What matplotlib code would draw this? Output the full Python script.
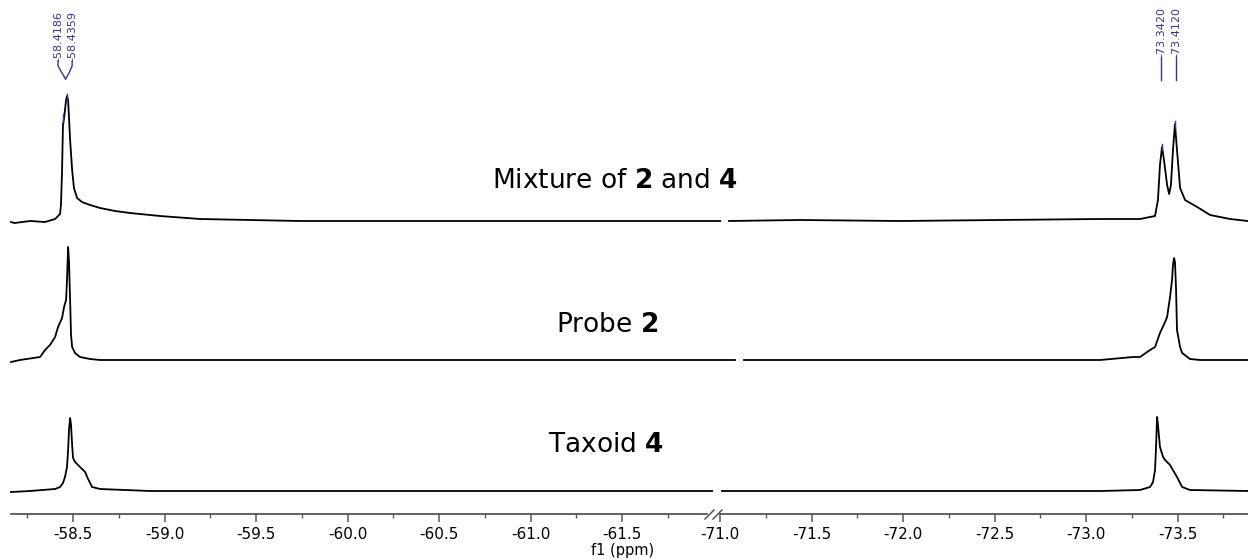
import matplotlib
matplotlib.use("Agg")
import matplotlib.pyplot as plt
from matplotlib.lines import Line2D
from matplotlib.transforms import blended_transform_factory

plt.rcParams['font.family'] = ['DejaVu Sans']
plt.rcParams['axes.unicode_minus'] = False

# ---------------- data (ppm, intensity) ----------------
top_left_ppm = [-58.161, -58.180, -58.265, -58.347, -58.402, -58.429, -58.434, -58.440, -58.445,
                -58.451, -58.456, -58.462, -58.467, -58.473, -58.484, -58.495, -58.505, -58.522,
                -58.549, -58.593, -58.648, -58.730, -58.811, -58.975, -59.194, -59.467, -59.740,
                -60.5, -61.2, -62.036]
top_left_int = [-1, -2, 0, -1, 2, 7, 16, 51, 96, 103, 111, 121, 125, 121, 81, 51, 33, 23, 19, 16,
                13, 10, 8, 5, 2, 1, 0, 0, 0, 0]
top_right_ppm = [-71.049, -71.437, -71.984, -72.530, -73.077, -73.295, -73.377, -73.393, -73.404,
                 -73.415, -73.426, -73.443, -73.454, -73.464, -73.475, -73.486, -73.497, -73.514,
                 -73.541, -73.607, -73.678, -73.787, -73.885]
top_right_int = [0, 1, 0, 1, 2, 2, 5, 21, 56, 74, 61, 36, 27, 36, 71, 97, 71, 33, 21, 14, 6, 2, 0]

mid_left_ppm = [-58.161, -58.210, -58.320, -58.347, -58.374, -58.402, -58.418, -58.440, -58.451,
                -58.462, -58.467, -58.473, -58.478, -58.484, -58.489, -58.495, -58.511, -58.538,
                -58.593, -58.648, -59.5, -60.5, -61.5, -62.117]
mid_left_int = [-2, 0, 3, 10, 15, 23, 33, 42, 53, 60, 80, 113, 98, 60, 25, 13, 7, 3, 1, 0, 0, 0, 0, 0]
mid_right_ppm = [-71.131, -71.984, -72.803, -73.077, -73.257, -73.295, -73.350, -73.377, -73.404,
                 -73.432, -73.443, -73.459, -73.470, -73.475, -73.481, -73.486, -73.492, -73.497,
                 -73.514, -73.525, -73.568, -73.623, -73.885]
mid_right_int = [0, 0, 0, 0, 3, 3, 10, 13, 27, 38, 43, 63, 80, 95, 102, 98, 70, 30, 13, 7, 1, 0, 0]

bot_left_ppm = [-58.161, -58.265, -58.402, -58.429, -58.445, -58.456, -58.467, -58.473, -58.478,
                -58.484, -58.489, -58.495, -58.500, -58.511, -58.538, -58.566, -58.577, -58.604,
                -58.648, -58.921, -59.8, -60.8, -61.992]
bot_left_int = [-1, 0, 2, 4, 8, 14, 24, 41, 61, 73, 66, 46, 33, 29, 24, 19, 14, 4, 2, 0, 0, 0, 0]
bot_right_ppm = [-71.011, -71.984, -73.077, -73.295, -73.350, -73.366, -73.377, -73.383, -73.388,
                 -73.393, -73.404, -73.421, -73.432, -73.448, -73.459, -73.481, -73.497, -73.525,
                 -73.568, -73.885]
bot_right_int = [0, 0, 0, 1, 4, 9, 21, 46, 74, 66, 44, 34, 31, 28, 26, 19, 14, 4, 1, 0]

spectrum_titles = [r"Mixture of $\mathbf{2}$ and $\mathbf{4}$", r"Probe $\mathbf{2}$", r"Taxoid $\mathbf{4}$"]

left_major = [-58.5, -59.0, -59.5, -60.0, -60.5, -61.0, -61.5]
left_minor = [-58.25, -58.75, -59.25, -59.75, -60.25, -60.75, -61.25, -61.75]
right_major = [-71.0, -71.5, -72.0, -72.5, -73.0, -73.5]
right_minor = [-71.25, -71.75, -72.25, -72.75, -73.25, -73.75]

peak_labels_left = ["-58.4186", "-58.4359"]
peak_labels_right = ["-73.3420", "-73.4120"]

# ---------------- layout ----------------
W, H = 1248, 560
fig = plt.figure(figsize=(W / 100, H / 100), dpi=100)
AX_BOTTOM_PX = 514

def fx(px):
    return px / W

def fy(py):
    return 1 - py / H

axL = fig.add_axes([fx(11), fy(AX_BOTTOM_PX), fx(707 - 11), AX_BOTTOM_PX / H])
axR = fig.add_axes([fx(720), fy(AX_BOTTOM_PX), fx(1248 - 720), AX_BOTTOM_PX / H])

axL.set_xlim(-58.161, -61.964)
axR.set_xlim(-71.0, -73.885)

offsets = [293, 154, 23]
left_sets = [(top_left_ppm, top_left_int), (mid_left_ppm, mid_left_int), (bot_left_ppm, bot_left_int)]
right_sets = [(top_right_ppm, top_right_int), (mid_right_ppm, mid_right_int), (bot_right_ppm, bot_right_int)]

for ax, sets in ((axL, left_sets), (axR, right_sets)):
    ax.set_ylim(0, AX_BOTTOM_PX)
    for (xs, ys), off in zip(sets, offsets):
        ax.plot(xs, [v + off for v in ys], color='black', lw=1.3, clip_on=False,
                solid_joinstyle='round')
    for s in ('top', 'left', 'right'):
        ax.spines[s].set_visible(False)
    ax.spines['bottom'].set_color('#555555')
    ax.spines['bottom'].set_linewidth(1.3)
    ax.set_yticks([])
    ax.tick_params(axis='x', which='major', direction='out', length=5.5, width=1.1,
                   color='#555555', labelsize=11, pad=4)
    ax.tick_params(axis='x', which='minor', direction='out', length=3, width=1.0, color='#555555')
    ax.patch.set_visible(False)

axL.set_xticks(left_major)
axL.set_xticklabels([f"{v:.1f}" for v in left_major])
axL.set_xticks(left_minor, minor=True)
axR.set_xticks(right_major)
axR.set_xticklabels([f"{v:.1f}" for v in right_major])
axR.set_xticks(right_minor, minor=True)

fig.text(fx(623), fy(551), "f1 (ppm)", ha='center', va='center', fontsize=10.5)

# axis break marks
for x0 in (705, 713):
    fig.add_artist(Line2D([fx(x0), fx(x0 + 9)], [fy(519), fy(510)], color='#555555', lw=1.1))

# spectrum titles
title_pos = [(615, 181), (607, 325), (606, 445)]
for t, (px, py) in zip(spectrum_titles, title_pos):
    fig.text(fx(px), fy(py), t, ha='center', va='center', fontsize=19)

# peak labels
LBL = '#3a30a0'
trL = blended_transform_factory(axL.transData, fig.transFigure)
trR = blended_transform_factory(axR.transData, fig.transFigure)
left_text_ppm = [-58.418, -58.495]
for lab, xp in zip(peak_labels_left, left_text_ppm):
    axL.text(xp, fy(61), lab, rotation=90, ha='center', va='bottom', fontsize=8,
             color=LBL, transform=trL)
# bracket connectors (left)
joinx = -58.459
axL.add_line(Line2D([-58.418, -58.418, -58.440, joinx], [fy(61), fy(66), fy(73), fy(79)],
                    color=LBL, lw=1.0, transform=trL, clip_on=False))
axL.add_line(Line2D([-58.495, -58.495, -58.478, joinx], [fy(61), fy(66), fy(73), fy(79)],
                    color=LBL, lw=1.0, transform=trL, clip_on=False))
# peak markers
axL.add_line(Line2D([-58.467, -58.467], [fy(94), fy(101)], color=LBL, lw=1.0, transform=trL, clip_on=False))
axL.add_line(Line2D([-58.445, -58.445], [fy(114), fy(122)], color=LBL, lw=1.0, transform=trL, clip_on=False))

right_text_ppm = [-73.410, -73.492]
for lab, xp in zip(peak_labels_right, right_text_ppm):
    axR.text(xp, fy(57), lab, rotation=90, ha='center', va='bottom', fontsize=8,
             color=LBL, transform=trR)
    axR.add_line(Line2D([xp, xp], [fy(57), fy(80)], color=LBL, lw=1.0, transform=trR, clip_on=False))
axR.add_line(Line2D([-73.415, -73.415], [fy(144), fy(150)], color=LBL, lw=1.0, transform=trR, clip_on=False))
axR.add_line(Line2D([-73.486, -73.486], [fy(121), fy(128)], color=LBL, lw=1.0, transform=trR, clip_on=False))

fig.savefig("out.png", dpi=100)
